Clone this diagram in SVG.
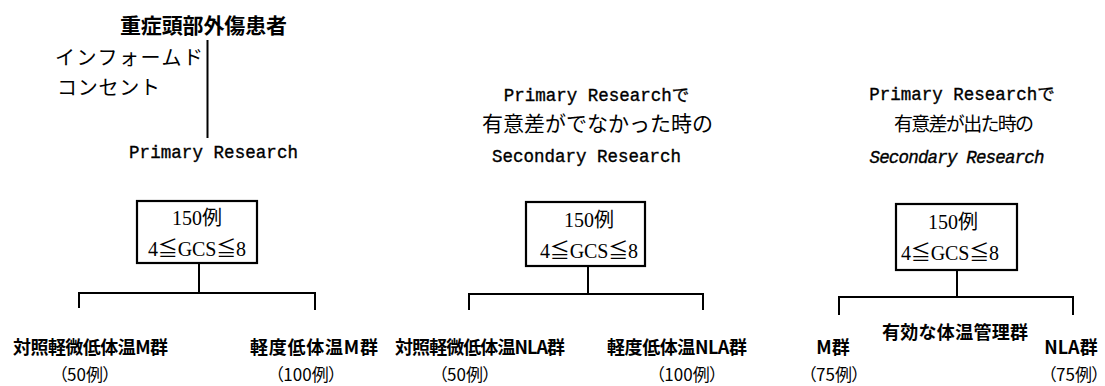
<svg xmlns="http://www.w3.org/2000/svg" width="1105" height="386" viewBox="0 0 1105 386">
<style>
.jp{font-family:"Noto Sans CJK JP","Noto Sans CJK SC",sans-serif;fill:#000}
.mono{font-family:"Liberation Mono","Noto Sans CJK JP",monospace;fill:#000;stroke:#000;stroke-width:0.35}
.serif{font-family:"Liberation Serif","Noto Sans CJK JP",serif;fill:#000}
.box{fill:#fff;stroke:#000;stroke-width:2.2}
.ln{stroke:#000;stroke-width:2;fill:none}
.lbl{font-size:18px;font-weight:700}
.par{font-size:17px;font-feature-settings:"palt"}
</style>
<rect width="1105" height="386" fill="#fff"/>

<g id="header1">
<text class="jp" x="203.5" y="33" font-size="21" font-weight="700" text-anchor="middle" textLength="167">重症頭部外傷患者</text>
<text class="jp" x="55" y="65" font-size="20" textLength="148">インフォームド</text>
<text class="jp" x="57" y="95" font-size="20" textLength="103">コンセント</text>
<text class="mono" x="213.5" y="158" font-size="17.5" text-anchor="middle" textLength="169">Primary Research</text>
</g>

<g id="header2">
<text class="mono" x="596.5" y="101" font-size="17.5" text-anchor="middle">Primary Researchで</text>
<text class="jp" x="597.5" y="131" font-size="21" text-anchor="middle" textLength="231">有意差がでなかった時の</text>
<text class="mono" x="586.5" y="162" font-size="17.5" text-anchor="middle" textLength="189">Secondary Research</text>
</g>

<g id="header3">
<text class="mono" x="962" y="100" font-size="17.5" text-anchor="middle">Primary Researchで</text>
<text class="jp" x="964" y="131" font-size="19" text-anchor="middle" textLength="140">有意差が出た時の</text>
<text class="mono" x="957" y="163" font-size="17.5" font-style="italic" text-anchor="middle" textLength="175">Secondary Research</text>
</g>

<g id="box1">
<rect class="box" x="137" y="201" width="120" height="62"/>
<text class="serif" x="197" y="225" font-size="20" text-anchor="middle">150例</text>
<text class="serif" x="197" y="256" font-size="20" text-anchor="middle" textLength="98">4≦GCS≦8</text>
</g>
<g id="box2">
<rect class="box" x="526" y="202" width="119" height="64"/>
<text class="serif" x="589" y="227" font-size="20" text-anchor="middle">150例</text>
<text class="serif" x="589" y="258" font-size="20" text-anchor="middle" textLength="98">4≦GCS≦8</text>
</g>
<g id="box3">
<rect class="box" x="896" y="204" width="121" height="66"/>
<text class="serif" x="953" y="229" font-size="20" text-anchor="middle">150例</text>
<text class="serif" x="950" y="260" font-size="20" text-anchor="middle" textLength="98">4≦GCS≦8</text>
</g>

<g id="connectors">
<line class="ln" x1="207.5" y1="40" x2="207.5" y2="138"/>
<path class="ln" d="M199 263 V293 M79 308 V293 H315 V310"/>
<path class="ln" d="M588 266 V294 M469 310 V294 H703 V310"/>
<path class="ln" d="M957 270 V297 M839 315 V297 H1073 V315"/>
</g>

<g id="g1a">
<text class="jp lbl" x="90.5" y="354" text-anchor="middle" textLength="155">対照軽微低体温M群</text>
<text class="jp par" x="85" y="381" text-anchor="middle">（50例）</text>
</g>
<g id="g1b">
<text class="jp lbl" x="314" y="354" text-anchor="middle" textLength="128">軽度低体温M群</text>
<text class="jp par" x="306" y="381" text-anchor="middle">（100例）</text>
</g>
<g id="g2a">
<text class="jp lbl" x="480" y="354" text-anchor="middle" textLength="170">対照軽微低体温NLA群</text>
<text class="jp par" x="465" y="381" text-anchor="middle">（50例）</text>
</g>
<g id="g2b">
<text class="jp lbl" x="677" y="354" text-anchor="middle" textLength="140">軽度低体温NLA群</text>
<text class="jp par" x="687" y="381" text-anchor="middle">（100例）</text>
</g>
<g id="g3">
<text class="jp lbl" x="955" y="339" text-anchor="middle" textLength="146">有効な体温管理群</text>
</g>
<g id="g3a">
<text class="jp lbl" x="833" y="354" text-anchor="middle">M群</text>
<text class="jp par" x="834" y="381" text-anchor="middle">（75例）</text>
</g>
<g id="g3b">
<text class="jp lbl" x="1071" y="354" text-anchor="middle">NLA群</text>
<text class="jp par" x="1074" y="381" text-anchor="middle">（75例）</text>
</g>
</svg>
